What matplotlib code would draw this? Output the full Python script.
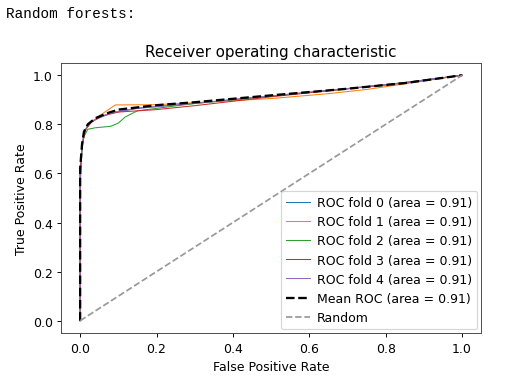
import matplotlib

matplotlib.use("Agg")
import matplotlib.pyplot as plt

# per-fold ROC points (fpr, tpr)
fold_fpr = [
    [0.0, 0.0, 0.005, 0.01, 0.02, 0.04, 0.08, 0.15, 0.3, 0.5, 0.7, 0.85, 1.0],
    [0.0, 0.0, 0.005, 0.015, 0.03, 0.06, 0.092, 0.2, 0.35, 0.5, 0.65, 0.75, 0.85, 1.0],
    [0.0, 0.0, 0.005, 0.01, 0.02, 0.04, 0.08, 0.1, 0.118, 0.15, 0.3, 0.5, 0.7, 0.85, 1.0],
    [0.0, 0.0, 0.005, 0.015, 0.03, 0.06, 0.1, 0.2, 0.3, 0.5, 0.7, 0.85, 1.0],
    [0.0, 0.0, 0.005, 0.01, 0.025, 0.05, 0.09, 0.15, 0.3, 0.5, 0.7, 0.85, 1.0],
]
fold_tpr = [
    [0.0, 0.55, 0.70, 0.76, 0.80, 0.82, 0.845, 0.865, 0.885, 0.915, 0.945, 0.97, 1.0],
    [0.0, 0.60, 0.72, 0.78, 0.81, 0.845, 0.879, 0.88, 0.892, 0.905, 0.925, 0.942, 0.965, 1.0],
    [0.0, 0.60, 0.70, 0.75, 0.78, 0.786, 0.792, 0.805, 0.83, 0.855, 0.885, 0.915, 0.945, 0.97, 1.0],
    [0.0, 0.60, 0.72, 0.78, 0.81, 0.835, 0.85, 0.86, 0.876, 0.912, 0.945, 0.968, 1.0],
    [0.0, 0.57, 0.71, 0.77, 0.805, 0.83, 0.85, 0.866, 0.886, 0.916, 0.946, 0.97, 1.0],
]
fold_auc = [0.91, 0.91, 0.91, 0.91, 0.91]

mean_fpr = [0.0, 0.0, 0.005, 0.01, 0.02, 0.04, 0.07, 0.1, 0.2, 0.3, 0.5, 0.7, 0.85, 1.0]
mean_tpr = [0.0, 0.62, 0.72, 0.77, 0.80, 0.825, 0.845, 0.86, 0.878, 0.89, 0.918, 0.945, 0.968, 1.0]
mean_auc = 0.91

DPI = 83
plt.rcParams["xtick.labelsize"] = 10.8
plt.rcParams["ytick.labelsize"] = 10.8
plt.rcParams["axes.labelsize"] = 10.9
plt.rcParams["legend.fontsize"] = 10.8
plt.rcParams["axes.titlesize"] = 13.1
plt.rcParams["axes.edgecolor"] = "#444444"
plt.rcParams["xtick.major.pad"] = 4.5

fig = plt.figure(figsize=(513 / DPI, 383 / DPI), dpi=DPI)
fig.text(0.012, 0.963, "Random forests:", family="Liberation Mono", fontsize=12.5,
         va="center", ha="left")
ax = fig.add_axes([0.119, 0.128, 0.819, 0.705])

for i, (fp, tp) in enumerate(zip(fold_fpr, fold_tpr)):
    ax.plot(fp, tp, lw=0.9, label="ROC fold %d (area = %0.2f)" % (i, fold_auc[i]))
ax.plot(mean_fpr, mean_tpr, "k--", lw=2, label="Mean ROC (area = %0.2f)" % mean_auc)
ax.plot([0, 1], [0, 1], "--", color=(0.6, 0.6, 0.6), label="Random")

ax.set_xlim(-0.05, 1.05)
ax.set_ylim(-0.05, 1.05)
ax.set_xlabel("False Positive Rate")
ax.set_ylabel("True Positive Rate")
ax.set_title("Receiver operating characteristic")
ax.legend(loc="lower right", labelspacing=0.5, borderaxespad=0.3,
          handlelength=1.9, handletextpad=0.6)

fig.savefig("out.png", dpi=DPI)
